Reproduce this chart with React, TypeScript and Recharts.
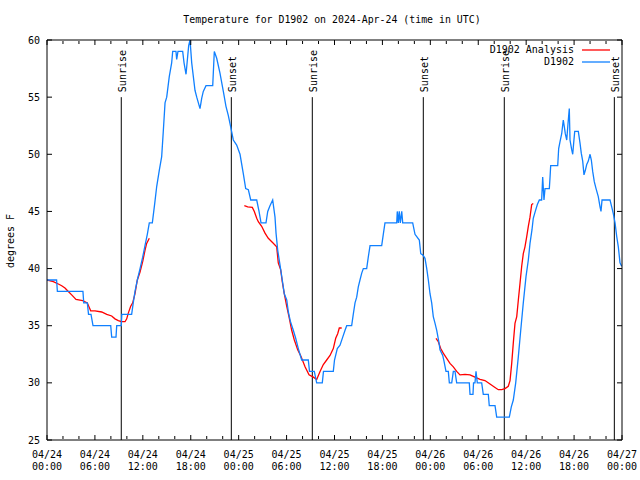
import React from "react";
import {
  Customized,
  Legend,
  Line,
  LineChart,
  ReferenceLine,
  XAxis,
  YAxis,
} from "recharts";

const FONT = "'DejaVu Sans Mono', 'Liberation Mono', monospace";
const RED = "#ff0000";
const BLUE = "#1080ff";

// hours since 04/24 00:00 UTC
const sensorHours = [
  0, 1.2, 1.3, 4.5, 4.6, 5.05, 5.2, 5.51, 5.76, 7.98, 8.1, 8.64, 8.73, 9.3, 9.37,
  10.6, 10.8, 11.02, 11.31, 11.65, 11.98, 12.27, 12.56, 12.81, 13.19, 13.49, 13.74,
  14.06, 14.36, 14.56, 14.78, 14.99, 15.31, 15.61, 15.74, 16.15, 16.24, 16.4, 16.99,
  17.16, 17.41, 17.62, 17.74, 17.91, 18.12, 18.53, 18.75, 19.16, 19.37, 19.57, 19.91,
  20.75, 20.95, 21.25, 21.66, 22.08, 22.41, 22.7, 23.0, 23.33, 23.75, 24.17, 24.58,
  24.88, 25.21, 25.51, 26.26, 26.55, 26.8, 27.42, 27.64, 27.92, 28.26, 28.55, 28.68,
  28.89, 29.18, 29.46, 29.71, 30.02, 30.22, 30.47, 30.84, 31.14, 31.47, 31.89, 32.72,
  32.87, 33.47, 33.77, 34.47, 34.62, 35.85, 36.0, 36.35, 36.69, 37.03, 37.32, 37.53,
  38.15, 38.35, 38.57, 38.78, 38.98, 39.19, 39.41, 39.61, 40.03, 40.23, 40.45, 41.91,
  42.11, 42.32, 43.79, 43.86, 43.99, 44.11, 44.24, 44.42, 44.54, 45.79, 46.08, 46.62,
  46.8, 47.05, 47.33, 47.55, 47.75, 47.96, 48.17, 48.37, 48.59, 48.8, 49.09, 49.21,
  49.55, 49.71, 49.96, 50.25, 50.38, 50.68, 50.88, 51.09, 51.3, 52.88, 52.97, 53.34,
  53.41, 53.59, 53.72, 53.88, 54.43, 54.63, 55.26, 55.38, 56.1, 56.31, 57.89, 58.14,
  58.39, 58.69, 59.02, 59.32, 59.64, 59.98, 60.27, 60.48, 60.73, 60.89, 61.14, 61.4,
  61.65, 61.94, 62.07, 62.23, 62.36, 62.9, 62.99, 63.07, 63.95, 64.07, 64.24, 64.45,
  64.58, 64.65, 64.78, 64.9, 65.08, 65.24, 65.4, 65.49, 65.7, 65.83, 65.95, 66.08,
  66.53, 66.74, 66.9, 67.08, 67.24, 67.41, 67.58, 67.78, 68.0, 68.16, 68.33, 68.53,
  68.75, 69.03, 69.25, 69.37, 69.5, 70.5, 70.71, 70.91, 71.13, 71.34, 71.54, 71.75,
  71.96,
];
const sensorTemps = [
  39, 39, 38, 38, 37, 37, 36, 36, 35, 35, 34, 34, 35, 35, 36,
  36, 37, 38, 39, 40, 41, 42, 43, 44, 44, 45.7, 47.2,
  48.6, 49.8, 52, 54.5, 55, 56.8, 58, 59, 59, 58.3, 59, 59,
  58, 57, 58.6, 59.5, 60, 58, 55.6, 55, 54, 54.9, 55.5, 56,
  56, 59, 58.4, 57.1, 55.5, 54.2, 53.4, 52.4, 51.25, 50.8, 50, 48.3,
  47, 46.9, 46, 46, 45, 44, 44, 45, 45.5, 46, 44.5, 43.1,
  41.6, 40.3, 39, 37.8, 37.25, 36.2, 35.4, 34.6, 33.9, 33, 32, 32,
  31, 31, 30, 30, 31, 31, 32, 33, 33.3, 34, 34.6, 35,
  35, 36, 37, 37.5, 38.4, 39, 39.6, 40, 40, 41, 42, 42,
  43, 44, 44, 45, 44, 45, 44, 45, 44, 44, 43, 42.5,
  41.3, 41.2, 40.9, 40, 39, 37.8, 37, 35.8, 35.2, 34.6, 33.5, 32.9,
  32.4, 31.9, 31, 31, 30, 30, 31, 31, 30, 30, 29, 29,
  30, 30, 31, 30, 30, 29, 29, 28, 28, 27, 27, 27.9,
  28.5, 30, 32.3, 34.6, 37, 39.3, 40.75, 42.2, 43.4, 44.4, 45, 45.6,
  46, 46, 48, 46, 47, 47, 48, 49, 49, 50.5, 51.1, 51.8,
  52.6, 53, 52.4, 51.8, 51.25, 52.7, 54, 51.25, 50.4, 50, 51, 52,
  52, 51, 50.1, 49.4, 48.2, 48.6, 49.1, 49.4, 50, 49.5, 48.5, 47.6,
  47, 46.3, 45.4, 45, 46, 46, 45.4, 44.8, 44, 42.8, 41.9, 40.5,
  40.2,
];

// analysis trace, null marks the gaps between runs
const analysisHours = [
  0, 0.79, 1.42, 1.84, 2.25, 2.67, 3.09, 3.63, 4.47, 5.05, 5.47, 6.01, 6.85, 7.48,
  8.1, 8.51, 8.93, 9.3, 9.77, 9.98, 10.18, 10.48, 10.73, 11.02, 11.31, 11.65, 11.98,
  12.27, 12.48, 12.81,
  18,
  24.71, 25.13, 25.71, 25.96, 26.26, 26.46, 26.88, 27.3, 27.71, 28.21, 28.76, 28.96,
  29.26, 29.46, 29.71, 30.02, 30.3, 30.64, 30.97, 31.39, 31.81, 32.31, 32.81, 33.35,
  33.77, 34.19, 34.6, 35.02, 35.44, 35.85, 36.15, 36.4, 36.6, 36.9,
  42,
  48.71, 49.0, 49.3, 49.62, 50.05, 50.46, 50.88, 51.3, 51.71, 52.34, 52.97, 53.59,
  54.22, 54.84, 55.47, 56.1, 56.51, 56.94, 57.35, 57.76, 57.98, 58.19, 58.39, 58.6,
  58.82, 59.02, 59.23, 59.44, 59.64, 59.85, 60.07, 60.27, 60.48, 60.69, 60.89,
];
const analysisTemps = [
  39, 38.85, 38.65, 38.5, 38.3, 38, 37.7, 37.3, 37.2, 37, 36.3, 36.3, 36.2, 36,
  35.85, 35.6, 35.45, 35.35, 35.35, 35.6, 36.1, 36.7, 37, 37.8, 39, 39.7, 40.6,
  41.6, 42.2, 42.65,
  null,
  45.5, 45.4, 45.35, 45, 44.4, 44.1, 43.7, 43.1, 42.65, 42.3, 41.9, 40.5,
  39.9, 38.85, 37.8, 36.7, 35.8, 34.6, 33.75, 32.9, 32.3, 31.4, 30.7, 30.5,
  30.3, 31, 31.6, 32, 32.4, 33, 33.9, 34.3, 34.8, 34.8,
  null,
  33.9, 33.6, 33, 32.6, 32.15, 31.7, 31.4, 31, 30.7, 30.75, 30.7, 30.5,
  30.3, 30.2, 29.9, 29.6, 29.4, 29.4, 29.5, 29.7, 30.2, 31.7, 33.5, 35.2,
  35.8, 37.25, 38.7, 40.2, 41.3, 41.9, 42.8, 43.7, 44.5, 45.6, 45.7,
];

const seriesNames = ["D1902 Analysis", "D1902"];

const sunLabels = ["Sunrise", "Sunset", "Sunrise", "Sunset", "Sunrise", "Sunset"];
const sunHours = [9.3, 23.08, 33.22, 47.12, 57.26, 71.04];

const majorTicks = [0, 6, 12, 18, 24, 30, 36, 42, 48, 54, 60, 66, 72];
const tickDates = ["04/24", "04/24", "04/24", "04/24", "04/25", "04/25", "04/25", "04/25", "04/26", "04/26", "04/26", "04/26", "04/27"];
const tickTimes = ["00:00", "06:00", "12:00", "18:00", "00:00", "06:00", "12:00", "18:00", "00:00", "06:00", "12:00", "18:00", "00:00"];
const minorTicks = [2, 4, 8, 10, 14, 16, 20, 22, 26, 28, 32, 34, 38, 40, 44, 46, 50, 52, 56, 58, 62, 64, 68, 70];
const tempTicks = [25, 30, 35, 40, 45, 50, 55, 60];

const sensorData = sensorHours.map((h, i) => ({ h, t: sensorTemps[i] }));
const analysisData = analysisHours.map((h, i) => ({ h, t: analysisTemps[i] }));

function TimeTick(props: any) {
  const { x, y, payload } = props;
  const i = majorTicks.indexOf(payload.value);
  return (
    <text x={x} y={y} textAnchor="middle" fontFamily={FONT} fontSize={10} fill="#000">
      <tspan x={x} y={y + 18}>{tickDates[i]}</tspan>
      <tspan x={x} y={y + 30}>{tickTimes[i]}</tspan>
    </text>
  );
}

// tick marks only, no text
const NoLabel = () => <g />;

const sunLabel = (text: string) => (props: any) => {
  const vb = props.viewBox || {};
  const x = (vb.x ?? 0) + 5;
  const y = (vb.y ?? 0) - 5;
  return (
    <text
      x={x}
      y={y}
      transform={`rotate(-90 ${x} ${y})`}
      fontFamily={FONT}
      fontSize={10}
      fill="#000"
    >
      {text}
    </text>
  );
};

function LegendBox(props: any) {
  const items = [...(props.payload || [])].sort(
    (a: any, b: any) => seriesNames.indexOf(a.value) - seriesNames.indexOf(b.value)
  );
  return (
    <svg width={640} height={80} style={{ display: "block" }}>
      {items.map((p: any, i: number) => (
        <g key={p.value}>
          <text x={574} y={53 + i * 12} textAnchor="end" fontFamily={FONT} fontSize={10} fill="#000">
            {p.value}
          </text>
          <line x1={582} x2={610} y1={50 + i * 12} y2={50 + i * 12} stroke={p.color} strokeWidth={1.3} />
        </g>
      ))}
    </svg>
  );
}

function Titles() {
  return (
    <g fontFamily={FONT} fill="#000">
      <text x={332} y={23} textAnchor="middle" fontSize={9.9}>
        Temperature for D1902 on 2024-Apr-24 (time in UTC)
      </text>
      <text x={14} y={241} textAnchor="middle" fontSize={10} transform="rotate(-90 14 241)">
        degrees F
      </text>
    </g>
  );
}

export default function App() {
  const xDomain = [0, 72];
  const yDomain = [25, 60];
  return (
    <div style={{ position: "absolute", left: 0, top: 0, width: 640, height: 480, background: "#fff" }}>
      <LineChart
        width={640}
        height={480}
        data={sensorData}
        margin={{ top: 40, right: 18, bottom: 0, left: 7 }}
      >
        <XAxis
          dataKey="h"
          type="number"
          domain={xDomain}
          ticks={majorTicks}
          interval={0}
          height={40}
          tickSize={0}
          tickMargin={0}
          tickLine={false}
          axisLine={{ stroke: "#000" }}
          tick={<TimeTick />}
          allowDataOverflow
        />
        <XAxis xAxisId="bMajor" dataKey="h" type="number" domain={xDomain} ticks={majorTicks} interval={0} orientation="bottom" mirror height={1} tickSize={5} tick={NoLabel} axisLine={false} tickLine={{ stroke: "#000" }} allowDataOverflow />
        <XAxis xAxisId="bMinor" dataKey="h" type="number" domain={xDomain} ticks={minorTicks} interval={0} orientation="bottom" mirror height={1} tickSize={3} tick={NoLabel} axisLine={false} tickLine={{ stroke: "#000" }} allowDataOverflow />
        <XAxis xAxisId="tMajor" dataKey="h" type="number" domain={xDomain} ticks={majorTicks} interval={0} orientation="top" mirror height={1} tickSize={5} tick={NoLabel} axisLine={{ stroke: "#000" }} tickLine={{ stroke: "#000" }} allowDataOverflow />
        <XAxis xAxisId="tMinor" dataKey="h" type="number" domain={xDomain} ticks={minorTicks} interval={0} orientation="top" mirror height={1} tickSize={3} tick={NoLabel} axisLine={false} tickLine={{ stroke: "#000" }} allowDataOverflow />
        <YAxis
          type="number"
          domain={yDomain}
          ticks={tempTicks}
          interval={0}
          width={40}
          tickSize={0}
          tickMargin={7}
          tickLine={false}
          axisLine={{ stroke: "#000" }}
          tick={{ fill: "#000", fontSize: 10, fontFamily: FONT }}
          allowDataOverflow
        />
        <YAxis yAxisId="lTicks" dataKey="t" type="number" domain={yDomain} ticks={tempTicks} interval={0} orientation="left" mirror width={1} tickSize={5} tick={NoLabel} axisLine={false} tickLine={{ stroke: "#000" }} allowDataOverflow />
        <YAxis yAxisId="rTicks" dataKey="t" type="number" domain={yDomain} ticks={tempTicks} interval={0} orientation="right" mirror width={1} tickSize={5} tick={NoLabel} axisLine={{ stroke: "#000" }} tickLine={{ stroke: "#000" }} allowDataOverflow />

        {sunHours.map((h, i) => (
          <ReferenceLine
            key={`sun-${i}`}
            segment={[{ x: h, y: 25 }, { x: h, y: 55 }]}
            stroke="#000"
            strokeWidth={1}
            label={sunLabel(sunLabels[i])}
          />
        ))}

        <Line
          data={analysisData}
          dataKey="t"
          name={seriesNames[0]}
          stroke={RED}
          strokeWidth={1.3}
          dot={false}
          activeDot={false}
          type="linear"
          isAnimationActive={false}
        />
        <Line
          data={sensorData}
          dataKey="t"
          name={seriesNames[1]}
          stroke={BLUE}
          strokeWidth={1.3}
          dot={false}
          activeDot={false}
          type="linear"
          isAnimationActive={false}
        />

        <Legend
          layout="vertical"
          align="center"
          verticalAlign="middle"
          wrapperStyle={{ top: 0, left: 0, width: 640, height: 80, pointerEvents: "none" }}
          content={<LegendBox />}
        />
        <Customized component={<Titles />} />
      </LineChart>
    </div>
  );
}
